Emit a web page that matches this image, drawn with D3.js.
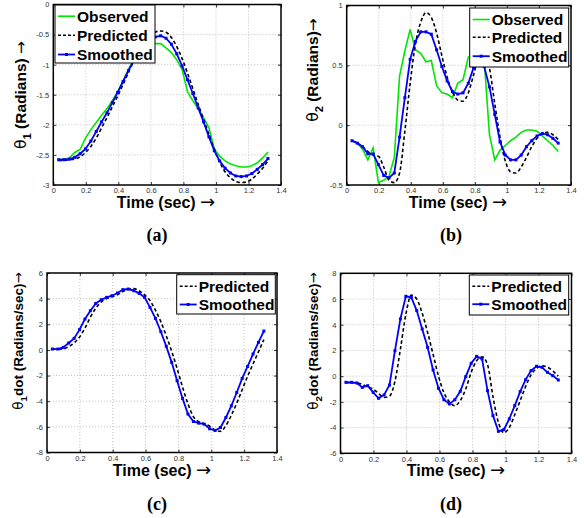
<!DOCTYPE html>
<html>
<head>
<meta charset="utf-8">
<script src="https://cdn.jsdelivr.net/npm/d3@7"></script>
<style>
  body { margin: 0; background: #fff; }
  svg { display: block; font-family: "Liberation Sans", Arial, Helvetica, sans-serif; }
</style>
</head>
<body>
<svg id="chart" width="584" height="518"></svg>
<script>
// time stamps (sec), one per frame
var timeSec = [0.033,0.066,0.099,0.132,0.165,0.198,0.231,0.264,0.297,0.330,
  0.363,0.396,0.429,0.462,0.495,0.528,0.561,0.594,0.627,0.660,
  0.693,0.726,0.759,0.792,0.825,0.858,0.891,0.924,0.957,0.990,
  1.023,1.056,1.089,1.122,1.155,1.188,1.221,1.254,1.287,1.320];

var xTicks = [0, 0.2, 0.4, 0.6, 0.8, 1, 1.2, 1.4];
var xTickLabels = ["0", "0.2", "0.4", "0.6", "0.8", "1", "1.2", "1.4"];

// (a) theta1
var theta1Observed = [-2.58,-2.57,-2.55,-2.46,-2.41,-2.22,-2.08,-1.96,-1.84,-1.73,
  -1.60,-1.45,-1.27,-1.08,-0.92,-0.80,-0.72,-0.67,-0.65,-0.65,
  -0.72,-0.80,-0.92,-1.08,-1.45,-1.60,-1.73,-1.88,-2.05,-2.40,
  -2.52,-2.60,-2.65,-2.68,-2.70,-2.70,-2.68,-2.63,-2.55,-2.45];
var theta1Predicted = [-2.59,-2.59,-2.58,-2.57,-2.53,-2.46,-2.36,-2.22,-2.05,-1.88,
  -1.70,-1.52,-1.33,-1.13,-0.94,-0.77,-0.62,-0.52,-0.46,-0.44,
  -0.46,-0.55,-0.70,-0.90,-1.14,-1.40,-1.66,-1.91,-2.16,-2.41,
  -2.62,-2.78,-2.88,-2.94,-2.96,-2.95,-2.90,-2.82,-2.72,-2.60];
var theta1Smoothed = [-2.58,-2.58,-2.57,-2.54,-2.48,-2.40,-2.27,-2.11,-1.95,-1.80,
  -1.63,-1.46,-1.28,-1.10,-0.93,-0.78,-0.67,-0.59,-0.54,-0.52,
  -0.56,-0.66,-0.82,-1.02,-1.25,-1.48,-1.72,-1.95,-2.20,-2.43,
  -2.60,-2.72,-2.80,-2.85,-2.86,-2.85,-2.81,-2.74,-2.66,-2.56];
var theta1Ticks = [-3, -2.5, -2, -1.5, -1, -0.5, 0];
var theta1TickLabels = ["-3", "-2.5", "-2", "-1.5", "-1", "-0.5", "0"];

// (b) theta2
var theta2Observed = [-0.13,-0.15,-0.20,-0.29,-0.19,-0.48,-0.46,-0.43,-0.27,0.41,
  0.62,0.80,0.63,0.60,0.53,0.54,0.33,0.27,0.26,0.23,
  0.35,0.38,0.57,0.59,0.58,0.55,-0.08,-0.29,-0.21,-0.17,
  -0.13,-0.10,-0.06,-0.04,-0.04,-0.05,-0.09,-0.13,-0.17,-0.22];
var theta2Predicted = [-0.13,-0.15,-0.18,-0.22,-0.25,-0.26,-0.35,-0.46,-0.48,-0.40,
  -0.05,0.35,0.68,0.86,0.94,0.90,0.77,0.58,0.40,0.28,
  0.21,0.20,0.27,0.42,0.58,0.65,0.48,0.18,-0.10,-0.30,
  -0.39,-0.40,-0.35,-0.27,-0.18,-0.11,-0.07,-0.06,-0.08,-0.12];
var theta2Smoothed = [-0.13,-0.15,-0.18,-0.24,-0.24,-0.33,-0.42,-0.44,-0.40,-0.10,
  0.23,0.55,0.70,0.78,0.78,0.76,0.63,0.49,0.37,0.28,
  0.26,0.27,0.35,0.48,0.56,0.49,0.32,0.09,-0.14,-0.25,
  -0.29,-0.29,-0.25,-0.18,-0.13,-0.09,-0.07,-0.08,-0.11,-0.15];
var theta2Ticks = [-0.5, 0, 0.5, 1];
var theta2TickLabels = ["-0.5", "0", "0.5", "1"];

// (c) theta1 dot
var theta1dotPredicted = [0.05,0.05,0.08,0.25,0.55,1.00,1.70,2.55,3.25,3.75,
  4.00,4.15,4.30,4.55,4.75,4.78,4.60,4.30,3.85,3.10,
  2.20,1.10,-0.10,-1.45,-2.90,-4.20,-5.20,-5.60,-5.75,-5.95,
  -6.25,-6.35,-5.90,-5.10,-4.15,-3.10,-2.05,-1.10,-0.15,0.80];
var theta1dotSmoothed = [0.07,0.07,0.20,0.54,0.90,1.58,2.41,3.06,3.63,3.92,
  4.10,4.23,4.44,4.70,4.75,4.62,4.41,4.10,3.32,2.46,
  1.42,0.28,-0.97,-2.40,-3.78,-5.00,-5.58,-5.71,-5.79,-6.15,
  -6.28,-6.05,-5.27,-4.36,-3.32,-2.22,-1.29,-0.32,0.59,1.47];
var theta1dotTicks = [-8, -6, -4, -2, 0, 2, 4, 6];
var theta1dotTickLabels = ["-8", "-6", "-4", "-2", "0", "2", "4", "6"];

// (d) theta2 dot
var theta2dotPredicted = [-0.50,-0.50,-0.52,-0.65,-0.85,-1.00,-1.35,-1.65,-1.55,-0.40,
  2.10,4.80,6.30,6.00,4.90,3.40,1.70,0.00,-1.30,-2.00,
  -2.30,-1.90,-1.00,0.30,1.20,1.50,0.90,-1.60,-3.60,-4.40,
  -4.00,-3.00,-1.90,-0.80,0.10,0.60,0.80,0.70,0.40,0.00];
var theta2dotSmoothed = [-0.48,-0.48,-0.53,-0.87,-0.74,-1.26,-1.72,-1.46,-0.69,1.98,
  4.45,6.21,6.13,5.10,3.67,2.24,0.48,-0.94,-1.83,-2.16,
  -1.83,-1.18,-0.04,1.00,1.54,1.34,-1.13,-3.07,-4.29,-4.16,
  -3.33,-2.29,-1.20,-0.27,0.43,0.77,0.69,0.30,0.04,-0.30];
var theta2dotTicks = [-6, -4, -2, 0, 2, 4, 6, 8];
var theta2dotTickLabels = ["-6", "-4", "-2", "0", "2", "4", "6", "8"];

var observedColor = "#00e600";
var smoothedColor = "#0000ff";
var legendFont = 15.5;

var svg = d3.select("#chart");

var panels = [
  {
    box: { left: 53.3, right: 281, top: 4.5, bottom: 185 },
    yTicks: theta1Ticks, yLabels: theta1TickLabels,
    series: { observed: theta1Observed, predicted: theta1Predicted, smoothed: theta1Smoothed },
    yTitle: [{ t: "\u03b8", sym: true }, { t: "1", sub: true }, { t: " (Radians) " }, { t: "\u2192", sym: true }],
    yTitleSize: 15.5, yTitlePos: [26, 95],
    xTitlePos: [166, 208],
    legend: { x: 55, y: 5, w: 100, h: 58, baselines: [21.7, 40.7, 60] },
    caption: "(a)", captionPos: [157, 241]
  },
  {
    box: { left: 346.7, right: 571, top: 5.5, bottom: 185 },
    yTicks: theta2Ticks, yLabels: theta2TickLabels,
    series: { observed: theta2Observed, predicted: theta2Predicted, smoothed: theta2Smoothed },
    yTitle: [{ t: "\u03b8", sym: true }, { t: "2", sub: true }, { t: " (Radians)" }, { t: "\u2192", sym: true }],
    yTitleSize: 15.5, yTitlePos: [318, 70],
    xTitlePos: [458, 208],
    legend: { x: 469.7, y: 8, w: 99, h: 59, baselines: [25, 42.7, 61.7] },
    caption: "(b)", captionPos: [451, 241]
  },
  {
    box: { left: 47, right: 277, top: 273, bottom: 452.5 },
    yTicks: theta1dotTicks, yLabels: theta1dotTickLabels,
    series: { predicted: theta1dotPredicted, smoothed: theta1dotSmoothed },
    yTitle: [{ t: "\u03b8", sym: true }, { t: "1", sub: true }, { t: "dot (Radians/sec)" }, { t: "\u2192", sym: true }],
    yTitleSize: 13.5, yTitlePos: [23, 341],
    xTitlePos: [162, 476],
    legend: { x: 176.7, y: 274.7, w: 98.6, h: 39.3, baselines: [291.7, 310] },
    caption: "(c)", captionPos: [157, 510]
  },
  {
    box: { left: 340.5, right: 571.5, top: 273.3, bottom: 453.3 },
    yTicks: theta2dotTicks, yLabels: theta2dotTickLabels,
    series: { predicted: theta2dotPredicted, smoothed: theta2dotSmoothed },
    yTitle: [{ t: "\u03b8", sym: true }, { t: "2", sub: true }, { t: "dot (Radians/sec)" }, { t: "\u2192", sym: true }],
    yTitleSize: 13.5, yTitlePos: [318, 341],
    xTitlePos: [456, 476],
    legend: { x: 469.3, y: 275, w: 99.4, h: 40, baselines: [291.7, 309.7] },
    caption: "(d)", captionPos: [451, 510]
  }
];

panels.forEach(drawPanel);

function drawPanel(p) {
  var b = p.box;
  var g = svg.append("g");

  var xScale = d3.scaleLinear().domain([0, 1.4]).range([b.left, b.right]);
  var yScale = d3.scaleLinear()
    .domain([p.yTicks[0], p.yTicks[p.yTicks.length - 1]])
    .range([b.bottom, b.top]);

  // dotted grid
  g.selectAll(".gx").data(xTicks.slice(1, -1)).enter().append("line")
    .attr("x1", d => xScale(d)).attr("x2", d => xScale(d))
    .attr("y1", b.top).attr("y2", b.bottom)
    .attr("stroke", "#b4b4b4").attr("stroke-width", 0.8)
    .attr("stroke-dasharray", "1,2");
  g.selectAll(".gy").data(p.yTicks.slice(1, -1)).enter().append("line")
    .attr("x1", b.left).attr("x2", b.right)
    .attr("y1", d => yScale(d)).attr("y2", d => yScale(d))
    .attr("stroke", "#b4b4b4").attr("stroke-width", 0.8)
    .attr("stroke-dasharray", "1,2");

  // axes, ticks pointing inward
  var xAxis = d3.axisBottom(xScale).tickValues(xTicks)
    .tickFormat((d, i) => xTickLabels[i]).tickSizeInner(-3).tickSizeOuter(0).tickPadding(3);
  var yAxis = d3.axisLeft(yScale).tickValues(p.yTicks)
    .tickFormat((d, i) => p.yLabels[i]).tickSizeInner(-3).tickSizeOuter(0).tickPadding(4);
  var xTop = d3.axisTop(xScale).tickValues(xTicks).tickFormat("").tickSizeInner(-3).tickSizeOuter(0);
  var yRight = d3.axisRight(yScale).tickValues(p.yTicks).tickFormat("").tickSizeInner(-3).tickSizeOuter(0);

  [
    [xAxis, `translate(0,${b.bottom})`],
    [yAxis, `translate(${b.left},0)`],
    [xTop, `translate(0,${b.top})`],
    [yRight, `translate(${b.right},0)`]
  ].forEach(function (a) {
    var ax = g.append("g").attr("transform", a[1]).call(a[0]);
    ax.select(".domain").remove();
    ax.selectAll("line").attr("stroke", "#000").attr("stroke-width", 0.8);
    ax.selectAll("text").attr("font-size", 7.5).attr("fill", "#333")
      .attr("font-family", "\"Liberation Sans\", Arial, sans-serif");
  });

  // series
  var line = d3.line().x(d => xScale(d[0])).y(d => yScale(d[1]));
  var pairs = arr => timeSec.map((t, i) => [t, arr[i]]);

  if (p.series.observed) {
    g.append("path").datum(pairs(p.series.observed)).attr("d", line)
      .attr("fill", "none").attr("stroke", observedColor).attr("stroke-width", 1.6);
  }
  g.append("path").datum(pairs(p.series.predicted)).attr("d", line.curve(d3.curveMonotoneX))
    .attr("fill", "none").attr("stroke", "#000").attr("stroke-width", 1.6)
    .attr("stroke-dasharray", "3.5,2.5");
  line.curve(d3.curveLinear);
  g.append("path").datum(pairs(p.series.smoothed)).attr("d", line)
    .attr("fill", "none").attr("stroke", smoothedColor).attr("stroke-width", 1.8);
  g.selectAll(".mk").data(pairs(p.series.smoothed)).enter().append("rect")
    .attr("x", d => xScale(d[0]) - 1.5).attr("y", d => yScale(d[1]) - 1.5)
    .attr("width", 3).attr("height", 3).attr("fill", smoothedColor);

  // box
  g.append("rect").attr("x", b.left).attr("y", b.top)
    .attr("width", b.right - b.left).attr("height", b.bottom - b.top)
    .attr("fill", "none").attr("stroke", "#000").attr("stroke-width", 1.5);

  // legend
  var lg = p.legend;
  var lgG = g.append("g");
  lgG.append("rect").attr("x", lg.x).attr("y", lg.y).attr("width", lg.w).attr("height", lg.h)
    .attr("fill", "#fff").attr("stroke", "#000").attr("stroke-width", 1);
  var entries = [];
  if (p.series.observed) entries.push({ name: "Observed", kind: "observed" });
  entries.push({ name: "Predicted", kind: "predicted" });
  entries.push({ name: "Smoothed", kind: "smoothed" });
  entries.forEach(function (e, i) {
    var by = lg.baselines[i];
    var ly = by - 5.5;
    var lx1 = lg.x + 3, lx2 = lg.x + 20;
    var ln = lgG.append("line").attr("x1", lx1).attr("x2", lx2).attr("y1", ly).attr("y2", ly);
    if (e.kind === "observed") ln.attr("stroke", observedColor).attr("stroke-width", 1.6);
    if (e.kind === "predicted") ln.attr("stroke", "#000").attr("stroke-width", 1.6).attr("stroke-dasharray", "3,2");
    if (e.kind === "smoothed") {
      ln.attr("stroke", smoothedColor).attr("stroke-width", 1.8);
      lgG.append("rect").attr("x", (lx1 + lx2) / 2 - 1.5).attr("y", ly - 1.5)
        .attr("width", 3).attr("height", 3).attr("fill", smoothedColor);
    }
    lgG.append("text").attr("x", lg.x + 22).attr("y", by)
      .attr("font-size", legendFont).attr("font-weight", "bold").text(e.name);
  });

  // x title
  var xt = g.append("text").attr("x", p.xTitlePos[0]).attr("y", p.xTitlePos[1])
    .attr("text-anchor", "middle").attr("font-size", 16).attr("font-weight", "bold");
  xt.append("tspan").text("Time (sec) ");
  xt.append("tspan").attr("font-weight", "normal").attr("font-size", 18)
    .attr("font-family", "\"DejaVu Sans\", sans-serif").text("\u2192");

  // y title, rotated
  var fs = p.yTitleSize;
  var yt = g.append("text")
    .attr("transform", `translate(${p.yTitlePos[0]},${p.yTitlePos[1]}) rotate(-90)`)
    .attr("text-anchor", "middle").attr("font-size", fs).attr("font-weight", "bold");
  var shift = 0;
  p.yTitle.forEach(function (s) {
    var ts = yt.append("tspan").text(s.t);
    var want = s.sub ? fs * 0.32 : 0;
    if (want !== shift) { ts.attr("dy", want - shift); shift = want; }
    if (s.sub) ts.attr("font-size", fs * 0.72);
    if (s.sym) ts.attr("font-weight", "normal").attr("font-family", "\"DejaVu Sans\", sans-serif");
  });

  // caption
  g.append("text").attr("x", p.captionPos[0]).attr("y", p.captionPos[1])
    .attr("text-anchor", "middle").attr("font-family", "\"Liberation Serif\", \"Times New Roman\", serif")
    .attr("font-weight", "bold").attr("font-size", 18).text(p.caption);
}
</script>
</body>
</html>
